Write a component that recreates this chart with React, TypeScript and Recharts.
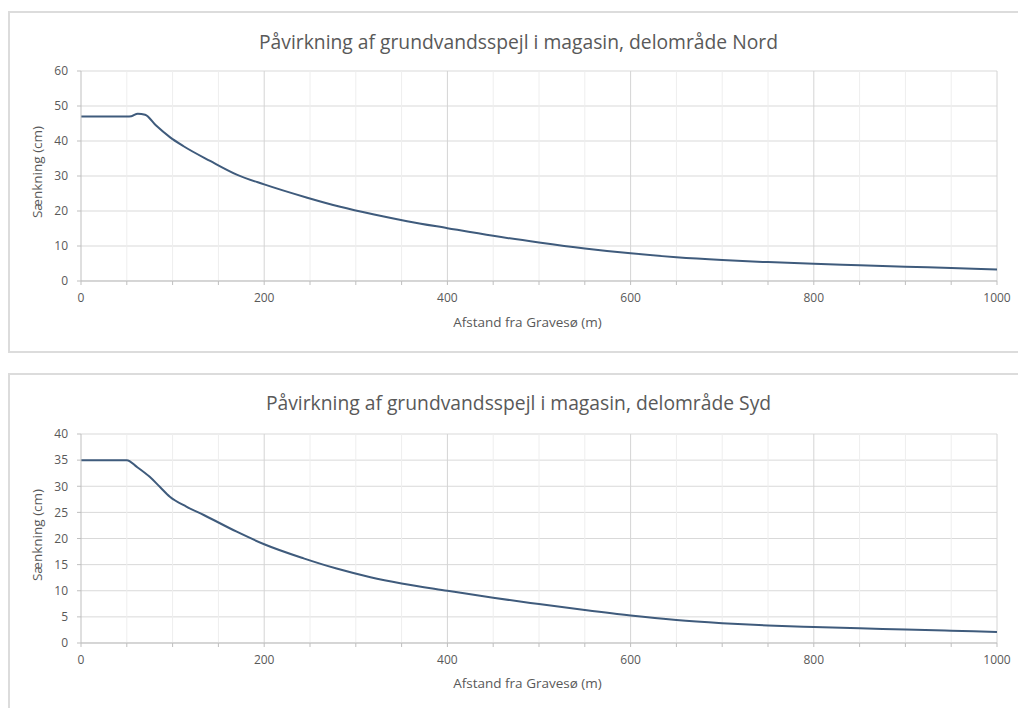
import React from 'react';
import { LineChart, Line, XAxis, YAxis, CartesianGrid, ReferenceLine } from 'recharts';

// Nord: afstand (m) og sænkning (cm)
const nordAfstand = [0, 50, 55, 62, 70, 82, 97, 112, 141, 170, 200, 247, 283, 320, 356, 400, 450, 500, 550, 600, 650, 700, 750, 800, 850, 900, 950, 1000];
const nordSaenkning = [47, 47, 47.1, 47.8, 47.5, 44.4, 41.1, 38.5, 34.3, 30.4, 27.6, 23.8, 21.2, 19.0, 17.1, 15.1, 12.9, 11.0, 9.3, 7.9, 6.8, 6.0, 5.4, 4.9, 4.5, 4.1, 3.7, 3.3];

// Syd
const sydAfstand = [0, 50, 61, 75, 86, 97, 115, 134, 170, 200, 243, 279, 316, 350, 400, 450, 500, 550, 600, 650, 700, 750, 800, 850, 900, 950, 1000];
const sydSaenkning = [35, 35, 33.7, 31.8, 29.9, 28, 26.1, 24.5, 21.3, 18.9, 16.2, 14.25, 12.6, 11.4, 10.0, 8.65, 7.45, 6.3, 5.25, 4.4, 3.8, 3.35, 3.05, 2.8, 2.6, 2.35, 2.1];

const xTicks = [0, 50, 100, 150, 200, 250, 300, 350, 400, 450, 500, 550, 600, 650, 700, 750, 800, 850, 900, 950, 1000];
const xMajor = [200, 400, 600, 800, 1000];
const nordYTicks = [0, 10, 20, 30, 40, 50, 60];
const sydYTicks = [0, 5, 10, 15, 20, 25, 30, 35, 40];

const FONT = '"Open Sans", "Liberation Sans", sans-serif';
const TEXT = '#595959';

const buildData = (xs: number[], ys: number[]) => xs.map((x, i) => ({ x, y: ys[i] }));

interface PanelProps {
  title: string;
  afstand: number[];
  saenkning: number[];
  yTicks: number[];
  top: number;
  height: number;
  boxTop: number;
  boxHeight: number;
  plotTop: number;
  plotBottom: number;
  titleY: number;
  xLabelY: number;
}

const Panel = ({ title, afstand, saenkning, yTicks, top, height, boxTop, boxHeight, plotTop, plotBottom, titleY, xLabelY }: PanelProps) => {
  const data = buildData(afstand, saenkning);
  const xAxisHeight = 30;
  const yMax = yTicks[yTicks.length - 1];
  return (
    <div style={{ position: 'absolute', left: 0, top, width: 1018, height }}>
      <div
        style={{
          position: 'absolute',
          left: 8,
          top: boxTop,
          width: 1030,
          height: boxHeight,
          border: '2px solid #dcdcdc',
          boxSizing: 'border-box',
        }}
      />
      <div
        style={{
          position: 'absolute',
          left: 0,
          width: 1037,
          top: titleY - 14,
          textAlign: 'center',
          fontFamily: FONT,
          fontSize: 19.3,
          color: TEXT,
          whiteSpace: 'nowrap',
        }}
      >
        {title}
      </div>
      <LineChart
        width={1018}
        height={height}
        data={data}
        margin={{ top: plotTop, right: 21, left: 31, bottom: height - plotBottom - xAxisHeight }}
        style={{ position: 'absolute', left: 0, top: 0 }}
      >
        <CartesianGrid vertical={false} stroke="#d9d9d9" strokeWidth={1} />
        {xTicks.filter(t => !xMajor.includes(t) && t !== 0).map(t => (
          <ReferenceLine key={`m-${t}`} x={t} stroke="#eeeeee" strokeWidth={1} />
        ))}
        {xMajor.map(t => (
          <ReferenceLine key={`M-${t}`} x={t} stroke="#d4d4d4" strokeWidth={1} />
        ))}
        <XAxis
          dataKey="x"
          type="number"
          domain={[0, 1000]}
          ticks={xTicks}
          interval={0}
          height={xAxisHeight}
          tickFormatter={(v: number) => (v % 200 === 0 ? String(v) : '')}
          tick={{ fill: TEXT, fontSize: 12, fontFamily: FONT }}
          tickLine={{ stroke: '#bfbfbf' }}
          axisLine={{ stroke: '#bfbfbf' }}
          tickSize={4}
          tickMargin={8}
        />
        <YAxis
          type="number"
          domain={[0, yMax]}
          ticks={yTicks}
          interval={0}
          width={50}
          tick={{ fill: TEXT, fontSize: 12, fontFamily: FONT }}
          tickLine={{ stroke: '#bfbfbf' }}
          axisLine={{ stroke: '#bfbfbf' }}
          tickSize={4}
          tickMargin={9}
        />
        <Line
          type="monotone"
          dataKey="y"
          stroke="#3f5b7c"
          strokeWidth={2}
          dot={false}
          isAnimationActive={false}
        />
      </LineChart>
      <div
        style={{
          position: 'absolute',
          left: 37 - 80,
          top: (plotTop + plotBottom) / 2 - 3 - 10,
          width: 160,
          textAlign: 'center',
          transform: 'rotate(-90deg)',
          fontFamily: FONT,
          fontSize: 13.5,
          color: TEXT,
          whiteSpace: 'nowrap',
        }}
      >
        Sænkning (cm)
      </div>
      <div
        style={{
          position: 'absolute',
          left: 0,
          width: 1055,
          top: xLabelY - 10,
          textAlign: 'center',
          fontFamily: FONT,
          fontSize: 13.5,
          color: TEXT,
          whiteSpace: 'nowrap',
        }}
      >
        Afstand fra Gravesø (m)
      </div>
    </div>
  );
};

export default function App() {
  return (
    <div style={{ position: 'absolute', left: 0, top: 0, width: 1018, height: 708, background: '#fff', overflow: 'hidden' }}>
      <Panel
        title="Påvirkning af grundvandsspejl i magasin, delområde Nord"
        afstand={nordAfstand}
        saenkning={nordSaenkning}
        yTicks={nordYTicks}
        top={0}
        height={362}
        boxTop={11}
        boxHeight={342}
        plotTop={71}
        plotBottom={281}
        titleY={42}
        xLabelY={323}
      />
      <Panel
        title="Påvirkning af grundvandsspejl i magasin, delområde Syd"
        afstand={sydAfstand}
        saenkning={sydSaenkning}
        yTicks={sydYTicks}
        top={362}
        height={346}
        boxTop={11}
        boxHeight={360}
        plotTop={72}
        plotBottom={281}
        titleY={41}
        xLabelY={322}
      />
    </div>
  );
}
